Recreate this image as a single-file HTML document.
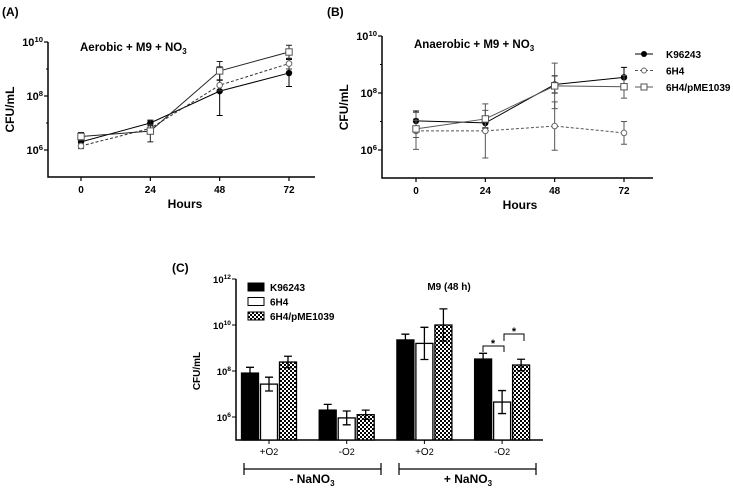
<!DOCTYPE html>
<html><head><meta charset="utf-8"><style>
body{margin:0;background:#fff;}
svg text{font-family:"Liberation Sans",Arial,sans-serif;font-weight:bold;fill:#000;}
</style></head><body>
<svg id="fig" width="733" height="488" viewBox="0 0 733 488" xmlns="http://www.w3.org/2000/svg">
<g id="A"></g>
<g id="B"></g>
<g id="C"></g>
</svg>
<script>
// ---- Line chart data (log10 CFU/mL)
const hours = [0, 24, 48, 72];
const aK = [6.3, 7.0, 8.18, 8.85];
const aK_err = [0.15, 0.1, 0.9, 0.5];
const a6 = [6.15, 6.8, 8.4, 9.2];
const a6_err = [0.1, 0.15, 0.2, 0.2];
const aP = [6.5, 6.7, 8.93, 9.63];
const aP_err = [0.15, 0.4, 0.35, 0.25];
const bK = [7.02, 6.95, 8.3, 8.55];
const bK_err = [0.35, 0.2, 0.3, 0.35];
const b6 = [6.67, 6.67, 6.84, 6.6];
const b6_err = [0.65, 0.95, 0.85, 0.4];
const bP = [6.74, 7.09, 8.25, 8.22];
const bP_err = [0.3, 0.3, 0.8, 0.4];
const yTicksLine = [6, 8, 10];
const xTickLabels = ["0", "24", "48", "72"];
// ---- Bar chart data
const barGroups = ["+O2", "-O2", "+O2", "-O2"];
const barK = [7.91, 6.3, 9.35, 8.52];
const barK_err = [0.25, 0.25, 0.25, 0.25];
const bar6 = [7.43, 5.96, 9.2, 6.65];
const bar6_err = [0.3, 0.3, 0.7, 0.5];
const barP = [8.39, 6.1, 10.0, 8.26];
const barP_err = [0.25, 0.2, 0.7, 0.25];
const yTicksBar = [6, 8, 10, 12];
const legendNames = ["K96243", "6H4", "6H4/pME1039"];

const NS = "http://www.w3.org/2000/svg";
function el(parent, tag, attrs, text){
  const e = document.createElementNS(NS, tag);
  for (const k in attrs) e.setAttribute(k, attrs[k]);
  if (text !== undefined) e.textContent = text;
  parent.appendChild(e); return e;
}
const defs = el(document.getElementById('fig'), 'defs', {});
const pat = el(defs, 'pattern', {id:'chk', width:4, height:4, patternUnits:'userSpaceOnUse'});
el(pat, 'rect', {width:4, height:4, fill:'#fff'});
el(pat, 'rect', {width:2, height:2, fill:'#000'});
el(pat, 'rect', {x:2, y:2, width:2, height:2, fill:'#000'});

function supLabel(g, x, y, base, exp, size, anchor){
  const t = el(g, 'text', {x:x, y:y, 'font-size':size, 'text-anchor':anchor||'end'});
  el(t, 'tspan', {}, base);
  el(t, 'tspan', {dy:-4, 'font-size':size*0.7}, exp);
  return t;
}

function lineChart(gid, o){
  const g = document.getElementById(gid);
  const X = h => o.x0 + (h/72)*(o.x72 - o.x0);
  const Y = v => o.y6 - (v-6)*o.dec;
  const ax = el(g, 'path', {d:`M${o.axX},${Y(10)} L${o.axX},${o.axB} L${o.axR},${o.axB}`, stroke:'#000', 'stroke-width':1.5, fill:'none'});
   
  yTicksLine.forEach(t=>{
    el(g,'line',{x1:o.axX-4,x2:o.axX,y1:Y(t),y2:Y(t),stroke:'#000','stroke-width':1.2});
    const l = supLabel(g, o.axX-5, Y(t)+4, '10', String(t), 11);
     
  });
  [7,9].forEach(t=>el(g,'line',{x1:o.axX-2,x2:o.axX,y1:Y(t),y2:Y(t),stroke:'#000'}));
  hours.forEach((h,i)=>{
    el(g,'line',{x1:X(h),x2:X(h),y1:o.axB,y2:o.axB+4,stroke:'#000','stroke-width':1.2});
    const t = el(g,'text',{x:X(h),y:o.axB+16,'font-size':10,'text-anchor':'middle'},xTickLabels[i]);
     
  });
  const xt = el(g,'text',{x:(o.x0+o.x72)/2,y:o.axB+31,'font-size':12,'text-anchor':'middle'},'Hours');
   
  const yt = el(g,'text',{x:0,y:0,'font-size':12,'text-anchor':'middle',transform:`translate(${o.axX-34},${Y(7.5)}) rotate(-90)`},'CFU/mL');
   
  const tt = el(g,'text',{x:o.tx,y:o.ty,'font-size':11.5,'text-anchor':'start'});
  el(tt,'tspan',{},o.title); el(tt,'tspan',{dy:3,'font-size':8},'3');
   
  const pl = el(g,'text',{x:o.px,y:16,'font-size':12},o.panel);
   
  o.series.forEach(s=>{
    const d = hours.map((h,i)=>(i?'L':'M')+X(h)+','+Y(s.v[i])).join(' ');
    const ln = el(g,'path',{d:d,stroke:s.col,'stroke-width':1,fill:'none','stroke-dasharray':s.dash||'none'});
     
    hours.forEach((h,i)=>{
      const x=X(h), y1=Y(s.v[i]+s.e[i]), y2=Y(s.v[i]-s.e[i]);
      el(g,'path',{d:`M${x},${y1} L${x},${y2} M${x-3},${y1} L${x+3},${y1} M${x-3},${y2} L${x+3},${y2}`,stroke:s.col,'stroke-width':1});
      let m;
      if(s.mk==='fc') m=el(g,'circle',{cx:x,cy:Y(s.v[i]),r:3.2,fill:'#000'});
      else if(s.mk==='oc') m=el(g,'circle',{cx:x,cy:Y(s.v[i]),r:2.8,fill:'#fff',stroke:'#666'});
      else m=el(g,'rect',{x:x-3.2,y:Y(s.v[i])-3.2,width:6.4,height:6.4,fill:'#fff',stroke:'#555'});
       
    });
  });
  if(o.legend){
    o.series.forEach((s,i)=>{
      const ly = 54 + i*16.5, lx = 644;
      el(g,'line',{x1:lx-9,x2:lx+9,y1:ly,y2:ly,stroke:s.col,'stroke-dasharray':s.dash||'none'});
      if(s.mk==='fc') el(g,'circle',{cx:lx,cy:ly,r:3,fill:'#000'});
      else if(s.mk==='oc') el(g,'circle',{cx:lx,cy:ly,r:2.5,fill:'#fff',stroke:'#666'});
      else el(g,'rect',{x:lx-3,y:ly-3,width:6,height:6,fill:'#fff',stroke:'#555'});
      const t=el(g,'text',{x:666,y:ly+4,'font-size':10},legendNames[i]);
       
    });
  }
}
lineChart('A',{x0:81,x72:289,y6:150,dec:27,axX:48,axB:177,axR:315,tx:80,ty:51,title:'Aerobic + M9 + NO',px:2,panel:'(A)',
  series:[{v:aK,e:aK_err,mk:'fc',col:'#000'},{v:a6,e:a6_err,mk:'oc',col:'#333',dash:'3,2'},{v:aP,e:aP_err,mk:'sq',col:'#222'}]});
lineChart('B',{x0:416,x72:624,y6:150,dec:28.5,axX:382,axB:178,axR:653,tx:414,ty:48,title:'Anaerobic + M9 + NO',px:327,panel:'(B)',legend:true,
  series:[{v:bK,e:bK_err,mk:'fc',col:'#000'},{v:b6,e:b6_err,mk:'oc',col:'#555',dash:'3,2'},{v:bP,e:bP_err,mk:'sq',col:'#555'}]});

// ---- Bar chart
(function(){
  const g = document.getElementById('C');
  const axX=236, axB=440, axR=543;
  const Y = v => 417 - (v-6)*23;
  const GX = i => 269 + i*77.7;
  el(g,'path',{d:`M${axX},${Y(12)} L${axX},${axB} L${axR},${axB}`,stroke:'#000','stroke-width':1.5,fill:'none'});
  yTicksBar.forEach(t=>{
    el(g,'line',{x1:axX-4,x2:axX,y1:Y(t),y2:Y(t),stroke:'#000'});
    const l=supLabel(g,axX-5,Y(t)+4,'10',String(t),9.5);
     
  });
  barGroups.forEach((lab,i)=>{
    el(g,'line',{x1:GX(i),x2:GX(i),y1:axB,y2:axB+4,stroke:'#000'});
    const t=el(g,'text',{x:GX(i),y:axB+15,'font-size':10,'text-anchor':'middle'});
    t.style.fontWeight='normal';
    el(t,'tspan',{},lab.slice(0,2)); el(t,'tspan',{'font-size':9},lab.slice(2));
     
    [[barK,barK_err,'#000'],[bar6,bar6_err,'#fff'],[barP,barP_err,'url(#chk)']].forEach((s,j)=>{
      const cx=GX(i)+(j-1)*19, v=s[0][i], e=s[1][i];
      const r=el(g,'rect',{x:cx-8.5,y:Y(v),width:17,height:axB-Y(v),fill:s[2],stroke:'#000','stroke-width':1.3});
       
      const y1=Y(v+e), y2=Y(v-e);
      el(g,'path',{d:`M${cx},${y1} L${cx},${j===0?Y(v):y2} M${cx-4},${y1} L${cx+4},${y1}`+(j===0?'':` M${cx-4},${y2} L${cx+4},${y2}`),stroke:'#000','stroke-width':1.3,fill:'none'});
    });
  });
  const yt=el(g,'text',{x:0,y:0,'font-size':10,'text-anchor':'middle',transform:`translate(200,${Y(8)}) rotate(-90)`},'CFU/mL');
   
  const pl=el(g,'text',{x:172,y:272,'font-size':12},'(C)');
   
  const tt=el(g,'text',{x:449,y:290,'font-size':10,'text-anchor':'middle'},'M9 (48 h)');
   
  ['#000','#fff','url(#chk)'].forEach((f,i)=>{
    const ly=287+i*14.5;
    el(g,'rect',{x:248,y:ly-4,width:16,height:8,fill:f,stroke:'#000'});
    const t=el(g,'text',{x:270,y:ly+4,'font-size':10},legendNames[i]);
     
  });
  el(g,'path',{d:'M483,352 L483,346 L504,346 L504,352 M504,341 L504,334 L524,334 L524,341',stroke:'#000',fill:'none'});
  const s1=el(g,'text',{x:493,y:347,'font-size':11,'text-anchor':'middle'},'*');
   
  const s2=el(g,'text',{x:514,y:335,'font-size':11,'text-anchor':'middle'},'*');
   
  el(g,'path',{d:'M244,463 L244,475 M244,469 L381,469 M381,463 L381,475 M399,463 L399,475 M399,469 L536,469 M536,463 L536,475',stroke:'#000','stroke-width':1.2,fill:'none'});
  [['- NaNO',312],['+ NaNO',468]].forEach(a=>{
    const t=el(g,'text',{x:a[1],y:483,'font-size':12,'text-anchor':'middle'});
    el(t,'tspan',{},a[0]); el(t,'tspan',{dy:3,'font-size':8},'3');
     
  });
})();
</script>
</body></html>
